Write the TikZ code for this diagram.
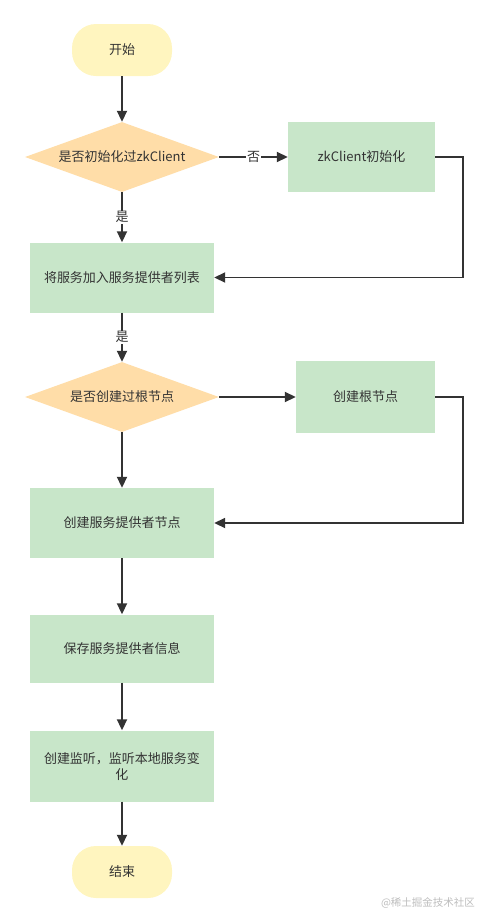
\documentclass[tikz,border=0pt]{standalone}
\usepackage{fontspec}
\setmainfont{Noto Sans CJK SC}
\usetikzlibrary{shapes.geometric,arrows.meta}
\definecolor{termfill}{HTML}{FFF5BF}
\definecolor{decfill}{HTML}{FFDDA8}
\definecolor{procfill}{HTML}{C8E6C9}
\definecolor{linec}{HTML}{333333}
\definecolor{wmark}{HTML}{BDBDBD}
\begin{document}
\begin{tikzpicture}[x=1pt,y=-1pt,
  every node/.style={font=\fontsize{13}{16}\selectfont, text=linec},
  term/.style={rectangle, rounded corners=24pt, fill=termfill, minimum width=100pt, minimum height=52pt, inner sep=0pt},
  dec/.style={diamond, fill=decfill, minimum width=194pt, minimum height=70pt, inner sep=0pt},
  proc/.style={rectangle, fill=procfill, minimum width=184pt, minimum height=70pt, inner sep=0pt, align=center},
  conn/.style={draw=linec, line width=1.8pt, -{Triangle[length=11pt,width=10pt]}},
  lbl/.style={fill=white, inner sep=1pt}
]
\useasboundingbox (0,0) rectangle (489,922);
\node[term] (start) at (122,50) {开始};
\node[dec] (d1) at (122,157) {\makebox[0pt]{是否初始化过zkClient}};
\node[proc, minimum width=147pt] (zk) at (361.5,157) {zkClient初始化};
\node[proc] (b1) at (122,277.5) {将服务加入服务提供者列表};
\node[dec] (d2) at (122,397) {\makebox[0pt]{是否创建过根节点}};
\node[proc, minimum width=139pt, minimum height=72pt] (root) at (365.5,397) {创建根节点};
\node[proc] (b2) at (122,523) {创建服务提供者节点};
\node[proc, minimum height=68pt] (b3) at (122,648.5) {保存服务提供者信息};
\node[proc, minimum height=71pt] (b4) at (122,766) {创建监听，监听本地服务变\\化};
\node[term] (end) at (122,872) {结束};
\node[font=\fontsize{10.5}{12}\selectfont, text=wmark] (wm) at (428,903) {@稀土掘金技术社区};

\draw[conn] (start.south) -- (d1.north);
\draw[conn] (d1.east) -- node[lbl] (no1) {否} (zk.west);
\draw[conn] (zk.east) -- ++(28,0) |- (b1.east);
\draw[conn] (d1.south) -- node[lbl] (yes1) {是} (b1.north);
\draw[conn] (b1.south) -- node[lbl] (yes2) {是} (d2.north);
\draw[conn] (d2.east) -- (root.west);
\draw[conn] (root.east) -- ++(28,0) |- (b2.east);
\draw[conn] (d2.south) -- (b2.north);
\draw[conn] (b2.south) -- (b3.north);
\draw[conn] (b3.south) -- (b4.north);
\draw[conn] (b4.south) -- (end.north);
\end{tikzpicture}
\end{document}
